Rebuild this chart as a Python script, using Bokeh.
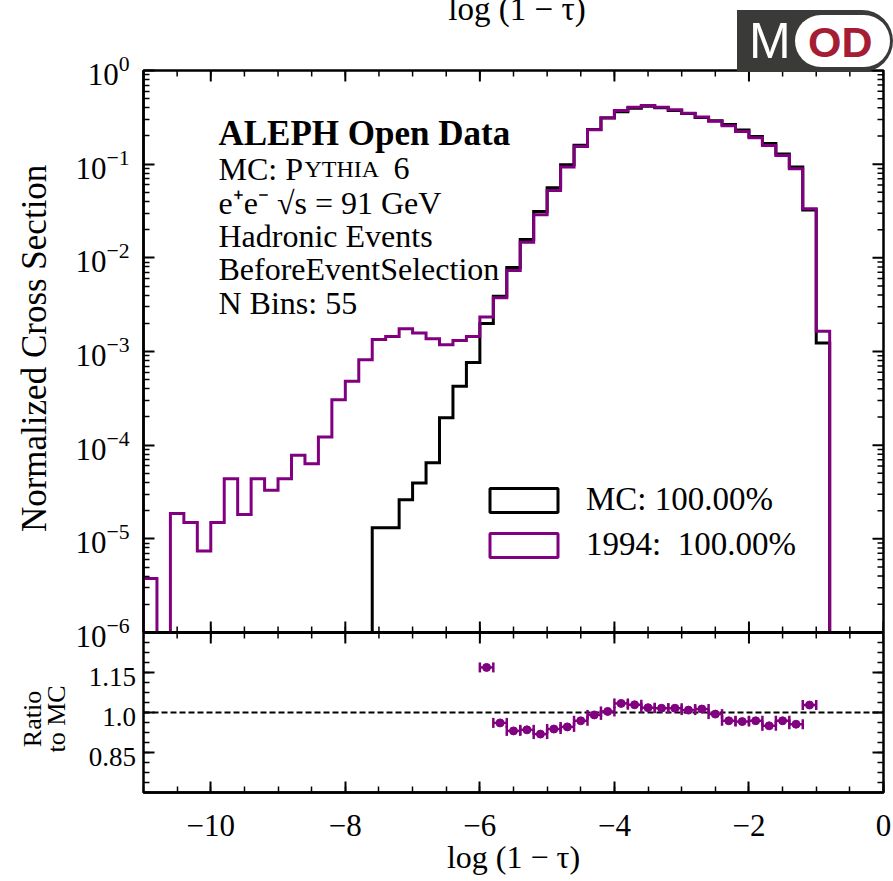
import numpy as np
from bokeh.plotting import figure
from bokeh.layouts import column
from bokeh.models import (FixedTicker, Range1d, LinearScale, Span, Label, Legend,
                          LegendItem, ColumnDataSource, Whisker, TeeHead, Div)
from bokeh.embed import file_html
from bokeh.resources import INLINE

# ---------------- data ----------------
bin_low, bin_high, n_bins = -11.0, 0.0, 55

data_1994 = [3.76e-6, 0.0, 1.86e-5, 1.49e-5, 7.4e-6, 1.49e-5, 4.39e-5, 1.82e-5, 4.39e-5, 3.3e-5,
             4.39e-5, 7.8e-5, 6.34e-5, 1.22e-4, 3.06e-4, 4.8e-4, 8.17e-4, 1.34e-3, 1.45e-3, 1.75e-3,
             1.58e-3, 1.37e-3, 1.18e-3, 1.31e-3, 1.45e-3, 2.33e-3, 3.75e-3, 7.34e-3, 1.47e-2, 2.88e-2,
             5.24e-2, 9.3e-2, 0.154, 0.233, 0.313, 0.374, 0.406, 0.423, 0.406, 0.38,
             0.35, 0.318, 0.288, 0.257, 0.223, 0.191, 0.158, 0.124, 0.0893, 0.0334,
             1.65e-3, 0.0, 0.0, 0.0, 0.0]

mc = [0.0] * 17 + [1.31e-5, 1.31e-5, 2.62e-5, 3.94e-5, 6.5e-5, 1.96e-4, 4.25e-4, 7.65e-4,
                   1.99e-3, 3.90e-3, 7.88e-3, 1.57e-2, 3.13e-2, 5.59e-2, 9.83e-2, 0.159, 0.235, 0.312,
                   0.362, 0.395, 0.416, 0.400, 0.374, 0.347, 0.314, 0.290, 0.265, 0.231,
                   0.197, 0.166, 0.128, 0.0934, 0.0325,
                   1.23e-3, 0.0, 0.0, 0.0, 0.0]

ratio_first_bin = 25
ratio_vals = [1.169, 0.961, 0.931, 0.935, 0.919, 0.938, 0.946, 0.969, 0.991, 1.004,
              1.034, 1.029, 1.018, 1.016, 1.016, 1.009, 1.013, 0.994, 0.969, 0.966,
              0.969, 0.950, 0.969, 0.956, 1.028]

x_major = [-10, -8, -6, -4, -2, 0]
x_tick_labels = {-10: "\u221210", -8: "\u22128", -6: "\u22126", -4: "\u22124", -2: "\u22122", 0: "0"}
ratio_major = [0.85, 1.0, 1.15]
ratio_tick_labels = ["0.85", "1.0", "1.15"]

legend_labels = ["MC: 100.00%", "1994:  100.00%"]
info_lines = ["ALEPH Open Data", "e\u207ae\u207b  \u221as = 91 GeV", "Hadronic Events",
              "BeforeEventSelection", "N Bins: 55"]
y_title = "Normalized Cross Section"
ratio_title = ["Ratio", "to MC"]
x_title = "log (1 \u2212 \u03c4)"

# ---------------- geometry / style ----------------
FONT = "Liberation Serif"
PURPLE = "#800080"
W, H = 893, 881
B_LEFT, B_RIGHT, B_TOP, B_BOTTOM = 143, 10, 70, 89
MAIN_PX, RATIO_PX = 562, 160          # the two stacked panels share one frame

y_lo, y_hi = 1e-6, 1.0
r_lo, r_hi = 0.7, 1.3
decades = np.log10(y_hi / y_lo)
y_start = y_lo / 10 ** (decades * RATIO_PX / MAIN_PX)
r_end = r_lo + (r_hi - r_lo) * (MAIN_PX + RATIO_PX) / RATIO_PX

edges = np.linspace(bin_low, bin_high, n_bins + 1)
centers = 0.5 * (edges[:-1] + edges[1:])
half_w = 0.5 * (edges[1] - edges[0])

x_minor = list(np.arange(bin_low, bin_high + 0.01, 0.5))
y_major = [10.0 ** k for k in range(-6, 1)]
y_minor = [m * 10.0 ** k for k in range(-6, 0) for m in range(2, 10)]
r_minor = list(np.arange(r_lo, r_hi + 0.001, 0.0375))


def step_outline(vals, floor):
    v = np.where(np.asarray(vals) > 0, np.asarray(vals), floor)
    xs = np.repeat(edges, 2)
    ys = np.concatenate([[floor], np.repeat(v, 2), [floor]])
    return xs, ys


p = figure(width=W, height=H, x_range=Range1d(bin_low, bin_high),
           y_range=Range1d(y_start, y_hi), y_axis_type="log", output_backend="svg",
           toolbar_location=None, min_border_left=B_LEFT, min_border_right=B_RIGHT,
           min_border_top=B_TOP, min_border_bottom=B_BOTTOM)
p.extra_y_ranges = {"ratio": Range1d(r_lo, r_end)}
p.extra_y_scales = {"ratio": LinearScale()}
p.xgrid.visible = False
p.ygrid.visible = False
p.outline_line_color = "black"
p.outline_line_width = 2.5
p.background_fill_color = "white"
p.border_fill_color = "white"


def style_axis(ax, size):
    ax.major_tick_in = 11
    ax.major_tick_out = 0
    ax.minor_tick_in = 6
    ax.minor_tick_out = 0
    ax.major_tick_line_width = 2
    ax.minor_tick_line_width = 1.5
    ax.major_tick_line_color = "black"
    ax.minor_tick_line_color = "black"
    ax.axis_line_width = 2.5
    ax.axis_line_color = "black"
    ax.major_label_text_font = FONT
    ax.major_label_text_font_size = size
    ax.major_label_text_color = "black"


# left axis: main panel (log)
yl = p.yaxis[0]
yl.ticker = FixedTicker(ticks=y_major, minor_ticks=y_minor)
yl.bounds = (y_lo, y_hi)
style_axis(yl, "31px")
yl.major_label_standoff = 14
# non-breaking spaces centre the title on the upper panel instead of the whole frame
yl.axis_label = "\u00a0" * 19 + y_title
yl.axis_label_text_font = FONT
yl.axis_label_text_font_size = "35px"
yl.axis_label_text_font_style = "normal"
yl.axis_label_text_color = "black"
yl.axis_label_standoff = 18

# bottom axis: ratio panel x
bx = p.xaxis[0]
bx.ticker = FixedTicker(ticks=x_major, minor_ticks=x_minor)
style_axis(bx, "31px")
bx.major_label_overrides = x_tick_labels
bx.major_label_standoff = 22
bx.axis_label = x_title
bx.axis_label_text_font = FONT
bx.axis_label_text_font_size = "32px"
bx.axis_label_text_font_style = "normal"
bx.axis_label_text_color = "black"
bx.axis_label_standoff = 0


# inward ticks on the other frame edges, placed through the ranges
def tick_rays(x, y, angle, length, width, rng="default"):
    p.ray(x=x, y=y, length=length, angle=angle, length_units="screen",
          line_color="black", line_width=width, y_range_name=rng)


up, down, left, right = np.pi / 2, -np.pi / 2, np.pi, 0.0
nx_maj, nx_min = len(x_major), len(x_minor)
tick_rays(x_major, [y_hi] * nx_maj, down, 11, 2)
tick_rays(x_minor, [y_hi] * nx_min, down, 6, 1.5)
tick_rays(x_major, [y_lo] * nx_maj, up, 11, 2)
tick_rays(x_minor, [y_lo] * nx_min, up, 6, 1.5)
tick_rays(x_major, [r_hi] * nx_maj, down, 11, 2, "ratio")
tick_rays(x_minor, [r_hi] * nx_min, down, 6, 1.5, "ratio")
tick_rays([bin_high] * len(y_major), y_major, left, 11, 2)
tick_rays([bin_high] * len(y_minor), y_minor, left, 6, 1.5)
tick_rays([bin_low] * len(ratio_major), ratio_major, right, 11, 2, "ratio")
tick_rays([bin_low] * len(r_minor), r_minor, right, 6, 1.5, "ratio")
tick_rays([bin_high] * len(ratio_major), ratio_major, left, 11, 2, "ratio")
tick_rays([bin_high] * len(r_minor), r_minor, left, 6, 1.5, "ratio")

# histograms
xs, ys = step_outline(mc, y_lo)
p.line(xs, ys, line_color="black", line_width=3, line_join="miter")
xs, ys = step_outline(data_1994, y_lo)
p.line(xs, ys, line_color=PURPLE, line_width=3, line_join="miter")

# panel divider
p.add_layout(Span(location=y_lo, dimension="width", line_color="black", line_width=3))

# ratio panel
ref_line = Span(location=1.0, dimension="width", line_color="black", line_dash="6 3",
                line_width=2, y_range_name="ratio")
ref_line.level = "underlay"
p.add_layout(ref_line)
rx = centers[ratio_first_bin:ratio_first_bin + len(ratio_vals)]
src = ColumnDataSource(dict(x=rx, y=ratio_vals, xl=rx - half_w, xu=rx + half_w))
p.add_layout(Whisker(base="y", lower="xl", upper="xu", dimension="width", source=src,
                     line_color=PURPLE, line_width=2.5, y_range_name="ratio",
                     upper_head=TeeHead(size=10, line_color=PURPLE, line_width=2.5),
                     lower_head=TeeHead(size=10, line_color=PURPLE, line_width=2.5)))
p.scatter("x", "y", source=src, size=8, color=PURPLE, y_range_name="ratio")

# legend (boxes taken from hidden quad renderers of the same histograms)
leg_mc = p.quad(left=edges[:-1], right=edges[1:], top=np.maximum(mc, y_lo), bottom=y_lo,
                fill_color=None, line_color="black", line_width=3, visible=False)
leg_d = p.quad(left=edges[:-1], right=edges[1:], top=np.maximum(data_1994, y_lo), bottom=y_lo,
               fill_color=None, line_color=PURPLE, line_width=3, visible=False)
legend = Legend(items=[LegendItem(label=legend_labels[0], renderers=[leg_mc]),
                       LegendItem(label=legend_labels[1], renderers=[leg_d])],
                location=(338, 229), glyph_width=85, glyph_height=30, label_standoff=20,
                spacing=8, padding=0, margin=0, border_line_color=None,
                background_fill_alpha=0, label_text_font=FONT, label_text_font_size="33px",
                label_text_color="black")
p.add_layout(legend)


def add_label(text, x, y, size, style="normal", color="black", font=FONT, align="left",
              baseline="alphabetic", **kw):
    lab = Label(x=x, y=y, x_units="screen", y_units="screen", text=text, text_font=font,
                text_font_size=f"{size}px", text_font_style=style, text_color=color,
                text_align=align, text_baseline=baseline, **kw)
    p.add_layout(lab)
    return lab


# info text block
add_label(info_lines[0], 75, 659, 35, style="bold")
add_label("MC: P", 75, 624, 32)
add_label("YTHIA", 161, 624, 24)
add_label("6", 250, 624, 32)
add_label(info_lines[1], 75, 590, 32)
add_label(info_lines[2], 75, 557, 32)
add_label(info_lines[3], 75, 524, 32)
add_label(info_lines[4], 75, 490, 32)
# letter of the neighbouring panel, cut by the bottom edge
add_label("D", 680, -110, 76, font="Liberation Sans")


# texts lying in the left/top margins (HTML overlay on top of the plot)
def ratio_to_px(v):
    # same linear mapping as the ratio range inside the lower panel
    return B_TOP + MAIN_PX + (r_hi - v) / (r_hi - r_lo) * RATIO_PX


tick_divs = "".join(
    f'<div style="position:absolute;left:{B_LEFT - 12 - 100}px;top:{ratio_to_px(v) - 15:.1f}px;'
    f'width:100px;height:30px;line-height:30px;text-align:right;font-size:27px;">{t}</div>'
    for v, t in zip(ratio_major, ratio_tick_labels))
title_divs = "".join(
    f'<div style="position:absolute;left:{cx - 60}px;top:{ratio_to_px(1.0) - 13:.1f}px;'
    f'width:120px;height:30px;line-height:30px;text-align:center;font-size:26px;'
    f'transform:rotate(-90deg);">{t}</div>'
    for t, cx in zip(ratio_title, (28, 52)))
overlay_html = (
    f'<div style="position:relative;width:{W}px;height:{H}px;font-family:\'{FONT}\';color:black;">'
    f'<div style="position:absolute;left:412px;top:-12px;width:200px;text-align:center;'
    f'font-size:33px;line-height:32px;white-space:nowrap;">{x_title}</div>'
    f'<div style="position:absolute;left:732px;top:5px;width:156px;height:62px;'
    f'background:#3a3b38;border-radius:0 31px 31px 0;"></div>'
    f'<div style="position:absolute;left:790px;top:10px;width:95px;height:52px;'
    f'background:white;border-radius:26px;"></div>'
    f'<div style="position:absolute;left:744px;top:11px;font-family:\'Liberation Sans\';'
    f'font-size:50px;line-height:50px;color:white;">M</div>'
    f'<div style="position:absolute;left:803px;top:15px;font-family:\'Liberation Sans\';'
    f'font-weight:bold;font-size:43px;line-height:44px;color:#a51d35;">OD</div>'
    f'{tick_divs}{title_divs}</div>')
overlay = Div(text=overlay_html, width=W, height=H,
              styles={"position": "absolute", "left": "0px", "top": "0px",
                      "z-index": "10", "pointer-events": "none"})

open("out.html", "w").write(file_html(column(p, overlay, spacing=0), INLINE))
